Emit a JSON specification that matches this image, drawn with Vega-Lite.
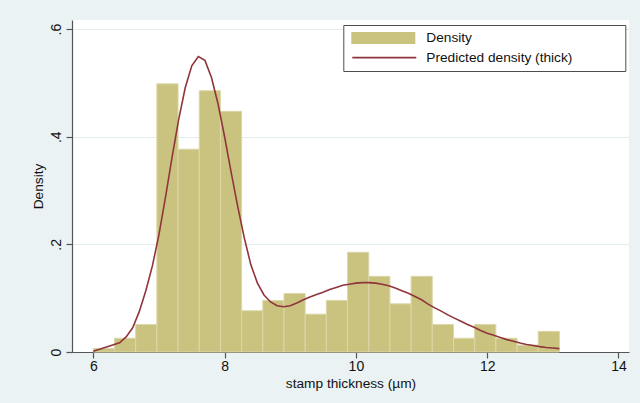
{
  "$schema": "https://vega.github.io/schema/vega-lite/v6.json",
  "width": 557,
  "height": 332,
  "autosize": {"type": "none"},
  "padding": {"left": 72, "top": 20, "right": 11, "bottom": 51},
  "background": "#EAF2F3",
  "config": {
    "view": {"fill": "white", "stroke": null},
    "font": "Liberation Sans",
    "axis": {
      "domainColor": "#555555",
      "domainWidth": 1.2,
      "tickColor": "#555555",
      "tickWidth": 1.2,
      "tickSize": 6,
      "labelFont": "Liberation Sans",
      "labelFontSize": 14,
      "labelColor": "#111111",
      "labelFlush": false,
      "titleFont": "Liberation Sans",
      "titleFontSize": 13.7,
      "titleFontWeight": "normal",
      "titleColor": "#111111"
    },
    "legend": {
      "labelFont": "Liberation Sans",
      "labelFontSize": 13.7,
      "labelColor": "#111111"
    }
  },
  "datasets": {
    "bins": [
      {"bin_start": 6.0, "bin_end": 6.3227, "density": 0.00639},
      {"bin_start": 6.3227, "bin_end": 6.6455, "density": 0.02556},
      {"bin_start": 6.6455, "bin_end": 6.9682, "density": 0.05111},
      {"bin_start": 6.9682, "bin_end": 7.2909, "density": 0.49833},
      {"bin_start": 7.2909, "bin_end": 7.6136, "density": 0.37694},
      {"bin_start": 7.6136, "bin_end": 7.9364, "density": 0.48555},
      {"bin_start": 7.9364, "bin_end": 8.2591, "density": 0.44722},
      {"bin_start": 8.2591, "bin_end": 8.5818, "density": 0.07667},
      {"bin_start": 8.5818, "bin_end": 8.9045, "density": 0.09583},
      {"bin_start": 8.9045, "bin_end": 9.2273, "density": 0.10861},
      {"bin_start": 9.2273, "bin_end": 9.55, "density": 0.07028},
      {"bin_start": 9.55, "bin_end": 9.8727, "density": 0.09583},
      {"bin_start": 9.8727, "bin_end": 10.1955, "density": 0.18528},
      {"bin_start": 10.1955, "bin_end": 10.5182, "density": 0.14056},
      {"bin_start": 10.5182, "bin_end": 10.8409, "density": 0.08944},
      {"bin_start": 10.8409, "bin_end": 11.1636, "density": 0.14056},
      {"bin_start": 11.1636, "bin_end": 11.4864, "density": 0.05111},
      {"bin_start": 11.4864, "bin_end": 11.8091, "density": 0.02556},
      {"bin_start": 11.8091, "bin_end": 12.1318, "density": 0.05111},
      {"bin_start": 12.1318, "bin_end": 12.4545, "density": 0.02556},
      {"bin_start": 12.4545, "bin_end": 12.7773, "density": 0.01278},
      {"bin_start": 12.7773, "bin_end": 13.1, "density": 0.03833}
    ],
    "curve": [
      {"x": 6.0, "density": 0.0015},
      {"x": 6.4, "density": 0.017},
      {"x": 6.5, "density": 0.028},
      {"x": 6.6, "density": 0.045},
      {"x": 6.7, "density": 0.075},
      {"x": 6.8, "density": 0.114},
      {"x": 6.9, "density": 0.160},
      {"x": 7.0, "density": 0.218},
      {"x": 7.1, "density": 0.288},
      {"x": 7.2, "density": 0.362},
      {"x": 7.3, "density": 0.432},
      {"x": 7.4, "density": 0.491},
      {"x": 7.5, "density": 0.532},
      {"x": 7.6, "density": 0.549},
      {"x": 7.7, "density": 0.542},
      {"x": 7.8, "density": 0.510},
      {"x": 7.9, "density": 0.461},
      {"x": 8.0, "density": 0.400},
      {"x": 8.1, "density": 0.334},
      {"x": 8.2, "density": 0.270},
      {"x": 8.3, "density": 0.212},
      {"x": 8.4, "density": 0.162},
      {"x": 8.5, "density": 0.128},
      {"x": 8.6, "density": 0.106},
      {"x": 8.7, "density": 0.093},
      {"x": 8.8, "density": 0.086},
      {"x": 8.9, "density": 0.084},
      {"x": 9.0, "density": 0.086},
      {"x": 9.1, "density": 0.091},
      {"x": 9.2, "density": 0.097},
      {"x": 9.3, "density": 0.102},
      {"x": 9.4, "density": 0.107},
      {"x": 9.5, "density": 0.111},
      {"x": 9.6, "density": 0.116},
      {"x": 9.7, "density": 0.120},
      {"x": 9.8, "density": 0.124},
      {"x": 9.9, "density": 0.126},
      {"x": 10.0, "density": 0.128},
      {"x": 10.1, "density": 0.129},
      {"x": 10.2, "density": 0.129},
      {"x": 10.3, "density": 0.128},
      {"x": 10.4, "density": 0.126},
      {"x": 10.5, "density": 0.123},
      {"x": 10.6, "density": 0.119},
      {"x": 10.7, "density": 0.114},
      {"x": 10.8, "density": 0.109},
      {"x": 10.9, "density": 0.103},
      {"x": 11.0, "density": 0.097},
      {"x": 11.1, "density": 0.089},
      {"x": 11.2, "density": 0.082},
      {"x": 11.3, "density": 0.076},
      {"x": 11.4, "density": 0.069},
      {"x": 11.5, "density": 0.063},
      {"x": 11.6, "density": 0.057},
      {"x": 11.7, "density": 0.051},
      {"x": 11.8, "density": 0.046},
      {"x": 11.9, "density": 0.040},
      {"x": 12.0, "density": 0.035},
      {"x": 12.1, "density": 0.031},
      {"x": 12.2, "density": 0.027},
      {"x": 12.3, "density": 0.023},
      {"x": 12.4, "density": 0.020},
      {"x": 12.5, "density": 0.0167},
      {"x": 12.6, "density": 0.014},
      {"x": 12.7, "density": 0.012},
      {"x": 12.8, "density": 0.010},
      {"x": 12.9, "density": 0.0085},
      {"x": 13.0, "density": 0.0073},
      {"x": 13.1, "density": 0.0063}
    ]
  },
  "layer": [
    {
      "data": {"name": "bins"},
      "mark": {"type": "bar", "stroke": "#DCD7A9", "strokeWidth": 1},
      "encoding": {
        "x": {
          "field": "bin_start",
          "type": "quantitative",
          "scale": {"domain": [5.6755, 14.16], "nice": false, "zero": false},
          "axis": {
            "values": [6, 8, 10, 12, 14],
            "format": "d",
            "grid": false,
            "labelPadding": 1,
            "labelBaseline": "top",
            "titleBaseline": "alphabetic",
            "titleY": 35
          },
          "title": "stamp thickness (µm)"
        },
        "x2": {"field": "bin_end"},
        "y": {
          "field": "density",
          "type": "quantitative",
          "scale": {"domain": [0, 0.617], "nice": false},
          "axis": {
            "values": [0, 0.2, 0.4, 0.6],
            "grid": true,
            "gridColor": "#E3ECEF",
            "gridWidth": 1.2,
            "labelAngle": -90,
            "labelAlign": "center",
            "labelBaseline": "bottom",
            "labelPadding": 3,
            "labelExpr": "datum.value == 0 ? '0' : replace(format(datum.value, '.1f'), '0.', '.')",
            "titleAngle": -90,
            "titleAlign": "center",
            "titleBaseline": "alphabetic",
            "titleX": -30,
            "titleY": 166
          },
          "title": "Density"
        },
        "y2": {"datum": 0},
        "fill": {
          "datum": "Density",
          "type": "nominal",
          "scale": {
            "domain": ["Density", "Predicted density (thick)"],
            "range": ["#C9C37F", "rgba(255,255,255,0)"]
          },
          "legend": {
            "title": null,
            "orient": "none",
            "direction": "vertical",
            "legendX": 271.3,
            "legendY": 5,
            "padding": 6,
            "clipHeight": 14,
            "rowPadding": 5.6,
            "symbolType": "M-1,-0.19H1V0.19H-1Z",
            "symbolSize": 4096,
            "symbolStrokeWidth": 0,
            "symbolOffset": 2,
            "labelOffset": 11,
            "labelLimit": 400,
            "zindex": 2
          }
        }
      }
    },
    {
      "data": {"name": "curve"},
      "mark": {"type": "line", "strokeWidth": 1.6},
      "encoding": {
        "x": {"field": "x", "type": "quantitative"},
        "y": {"field": "density", "type": "quantitative"},
        "stroke": {
          "datum": "Predicted density (thick)",
          "type": "nominal",
          "scale": {
            "domain": ["Density_", "Predicted density (thick)"],
            "range": ["rgba(255,255,255,0)", "#90353B"]
          },
          "legend": {
            "title": null,
            "orient": "none",
            "direction": "vertical",
            "legendX": 271.3,
            "legendY": 5,
            "fillColor": "white",
            "strokeColor": "#4D4D4D",
            "padding": 6,
            "clipHeight": 14,
            "rowPadding": 5.6,
            "symbolType": "stroke",
            "symbolSize": 4096,
            "symbolStrokeWidth": 1.6,
            "symbolOffset": 2,
            "labelOffset": 202,
            "labelLimit": 400,
            "labelFontSize": 1,
            "labelOpacity": 0,
            "labelExpr": "''",
            "zindex": 1
          }
        }
      }
    }
  ]
}
